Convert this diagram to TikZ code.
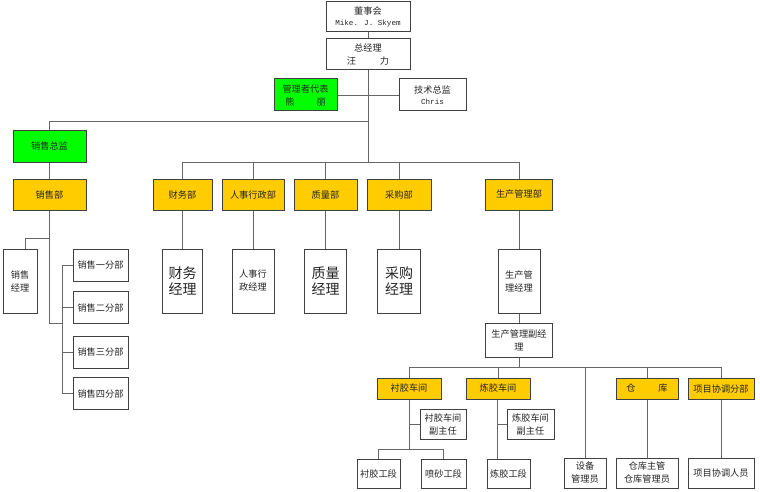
\documentclass[tikz,border=0pt]{standalone}
\usepackage{fontspec}
\setmainfont{Noto Sans CJK SC}
\newfontfamily\monof{Liberation Mono}
\definecolor{ygold}{HTML}{FFCC00}
\definecolor{lgreen}{HTML}{00FF00}
\begin{document}
\begin{tikzpicture}[x=1pt,y=-1pt,
  box/.style={draw=black!75, line width=1pt, fill=white, inner sep=0pt, align=center,
    text=black!85, font=\fontsize{9.2}{13}\selectfont},
  ybox/.style={box, fill=ygold},
  gbox/.style={box, fill=lgreen},
  big/.style={font=\fontsize{14}{16}\selectfont},
  ln/.style={draw=black!60, line width=0.9pt}]
\useasboundingbox (0,0) rectangle (760,492);

% top
\node[box, minimum width=84pt, minimum height=30pt] (dsh) at (368,17) {董事会\\[-2pt]{\monof\fontsize{7.6}{9}\selectfont Mike. J. Skyem}};
\node[box, minimum width=84pt, minimum height=31pt] (zjl) at (368,54.5) {总经理\\汪\hspace{2.6em}力};
\node[gbox, minimum width=63pt, minimum height=32pt] (gld) at (305.5,95) {管理者代表\\熊\hspace{2.4em}丽};
\node[box, minimum width=67pt, minimum height=32pt] (jszj) at (432.5,95) {技术总监\\[-2pt]{\monof\fontsize{7.6}{9}\selectfont Chris}};
\node[gbox, minimum width=73pt, minimum height=31pt] (xszj) at (49.5,146.5) {销售总监};

% departments
\node[ybox, minimum width=73pt, minimum height=31pt] (xsb) at (49.5,194.5) {销售部};
\node[ybox, minimum width=59pt, minimum height=31pt] (cwb) at (182.5,194.5) {财务部};
\node[ybox, minimum width=62pt, minimum height=31pt] (rsb) at (253,194.5) {人事行政部};
\node[ybox, minimum width=63pt, minimum height=31pt] (zlb) at (325.5,194.5) {质量部};
\node[ybox, minimum width=64pt, minimum height=31pt] (cgb) at (399,194.5) {采购部};
\node[ybox, minimum width=67pt, minimum height=31pt] (scb) at (519,194.5) {生产管理部};

% managers
\node[box, minimum width=34pt, minimum height=64pt] (xsjl) at (20,281) {销售\\经理};
\node[box, big, minimum width=40pt, minimum height=64pt] (cwjl) at (182.5,281) {财务\\经理};
\node[box, minimum width=42pt, minimum height=64pt] (rsjl) at (253,281) {人事行\\政经理};
\node[box, big, minimum width=42pt, minimum height=64pt] (zljl) at (325.5,281) {质量\\经理};
\node[box, big, minimum width=43pt, minimum height=64pt] (cgjl) at (399,281) {采购\\经理};
\node[box, minimum width=42pt, minimum height=64pt] (scjl) at (519,281) {生产管\\理经理};
\node[box, minimum width=67pt, minimum height=34pt] (scfj) at (519,340) {生产管理副经\\理};

% sales branches
\node[box, minimum width=55pt, minimum height=32pt] (fb1) at (100.5,265) {销售一分部};
\node[box, minimum width=55pt, minimum height=32pt] (fb2) at (100.5,307.5) {销售二分部};
\node[box, minimum width=55pt, minimum height=32pt] (fb3) at (100.5,352) {销售三分部};
\node[box, minimum width=55pt, minimum height=32pt] (fb4) at (100.5,393.5) {销售四分部};

% production subunits
\node[ybox, minimum width=64pt, minimum height=21pt] (cj1) at (409,388.5) {衬胶车间};
\node[ybox, minimum width=64pt, minimum height=21pt] (cj2) at (498,388.5) {炼胶车间};
\node[ybox, minimum width=62pt, minimum height=21pt] (ck) at (647,388.5) {仓\hspace{2.5em}库};
\node[ybox, minimum width=66pt, minimum height=21pt] (xm) at (721,388.5) {项目协调分部};
\node[box, minimum width=46pt, minimum height=30pt] (fz1) at (443,424) {衬胶车间\\副主任};
\node[box, minimum width=47pt, minimum height=30pt] (fz2) at (530.5,424) {炼胶车间\\副主任};
\node[box, minimum width=43pt, minimum height=29pt] (gd1) at (378.5,473.5) {衬胶工段};
\node[box, minimum width=45pt, minimum height=29pt] (gd2) at (443.5,473.5) {喷砂工段};
\node[box, minimum width=43pt, minimum height=29pt] (gd3) at (508.5,473.5) {炼胶工段};
\node[box, minimum width=42pt, minimum height=30pt] (sbgl) at (585,473) {设备\\管理员};
\node[box, minimum width=62pt, minimum height=30pt] (ckzg) at (647,473) {仓库主管\\仓库管理员};
\node[box, minimum width=66pt, minimum height=30pt] (xmry) at (721,473) {项目协调人员};

% junction coordinates
\coordinate (j1) at (368,121);
\coordinate (j2) at (368,162);
\coordinate (b2l) at (182.5,162);
\coordinate (b2r) at (519,162);
\coordinate (s0) at (49.5,238);
\coordinate (s1) at (49.5,323);
\coordinate (s2) at (62,323);
\coordinate (sv1) at (62,265);
\coordinate (sv2) at (62,393.5);
\coordinate (b3) at (519,367);
\coordinate (b3l) at (409,367);
\coordinate (b3r) at (721,367);
\coordinate (c1) at (409,449);
\coordinate (c1l) at (378.5,449);
\coordinate (c1r) at (443.5,449);

\path[ln] (dsh) -- (zjl);
\path[ln] (zjl) -- (j2);
\path[ln] (gld) -- (jszj);
\path[ln] (j1) -| (xszj);
\path[ln] (xszj) -- (xsb);
\path[ln] (b2l) -- (b2r);
\foreach \d in {cwb,rsb,zlb,cgb,scb} \path[ln] (\d.north |- j2) -- (\d.north);
\path[ln] (cwb) -- (cwjl);
\path[ln] (rsb) -- (rsjl);
\path[ln] (zlb) -- (zljl);
\path[ln] (cgb) -- (cgjl);
\path[ln] (scb) -- (scjl);
\path[ln] (scjl) -- (scfj);
% sales
\path[ln] (xsb.south) -- (s1) -- (s2);
\path[ln] (s0) -| ([xshift=5pt]xsjl.north);
\path[ln] (sv1) -- (sv2);
\foreach \f in {fb1,fb2,fb3,fb4} \path[ln] (\f.west -| sv1) -- (\f.west);
% production
\path[ln] (scfj.south) -- (b3);
\path[ln] (b3l) -- (b3r);
\path[ln] (b3l) -- (cj1.north);
\path[ln] (cj2.north |- b3) -- (cj2.north);
\path[ln] (ck.north |- b3) -- (ck.north);
\path[ln] (xm.north |- b3) -- (xm.north);
\path[ln] (sbgl.north |- b3) -- (sbgl.north);
\path[ln] (cj1.south) -- (c1);
\path[ln] (fz1.west -| c1) -- (fz1.west);
\path[ln] (c1l) -- (c1r);
\path[ln] (c1l) -- (gd1.north);
\path[ln] (c1r) -- (gd2.north);
\path[ln] ([xshift=-1pt]cj2.south) -- ([xshift=-1pt]cj2.south |- gd3.north);
\path[ln] ([xshift=-1pt]cj2.south |- fz2.west) -- (fz2.west);
\path[ln] (ck) -- (ckzg);
\path[ln] (xm) -- (xmry);
\end{tikzpicture}
\end{document}
